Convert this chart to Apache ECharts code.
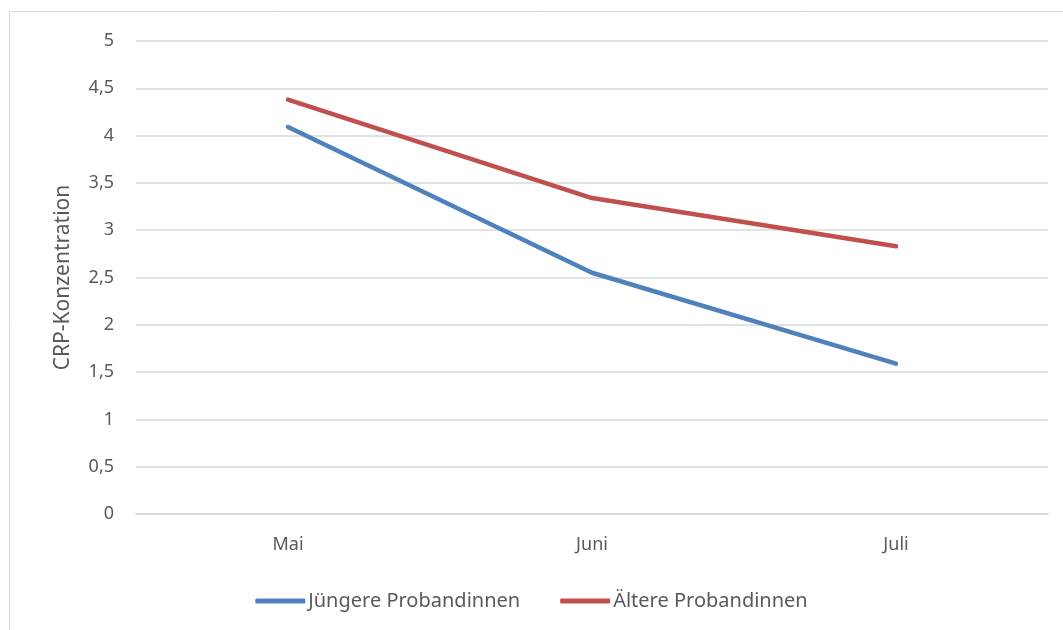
<!DOCTYPE html>
<html>
<head>
<meta charset="utf-8">
<script src="https://cdn.jsdelivr.net/npm/echarts@6/dist/echarts.min.js"></script>
<style>
  html, body { margin: 0; padding: 0; background: #fff; }
  #chart { width: 1063px; height: 630px; }
</style>
</head>
<body>
<div id="chart"></div>
<script>
const months = ['Mai', 'Juni', 'Juli']
const juengere = [4.09, 2.55, 1.59]
const aeltere = [4.38, 3.34, 2.83]

const chart = echarts.init(document.getElementById('chart'))
const font = 'Noto Sans'
const textColor = '#595959'

const option = {
	animation: false,
	graphic: [
		{
			type: 'rect',
			shape: { x: 9.5, y: 11.5, width: 1060, height: 630 },
			style: { fill: 'none', stroke: '#d9d9d9', lineWidth: 1 },
			silent: true,
		},
	],
	grid: {
		left: 136,
		right: 15,
		top: 41,
		bottom: 116,
	},
	legend: {
		bottom: 14,
		left: 'center',
		itemWidth: 50,
		itemHeight: 5,
		itemGap: 40,
		icon: 'roundRect',
		textStyle: { fontFamily: font, fontSize: 20, color: textColor, padding: [0, 0, 0, -2] },
		data: ['Jüngere Probandinnen', 'Ältere Probandinnen'],
	},
	xAxis: {
		type: 'category',
		data: months,
		boundaryGap: true,
		axisLine: { show: true, lineStyle: { color: '#d9d9d9', width: 1.5 } },
		axisTick: { show: false },
		axisLabel: { fontFamily: font, fontSize: 18, color: textColor, margin: 22 },
	},
	yAxis: {
		type: 'value',
		min: 0,
		max: 5,
		interval: 0.5,
		name: 'CRP-Konzentration',
		nameLocation: 'middle',
		nameGap: 62,
		nameTextStyle: { fontFamily: font, fontSize: 21, color: textColor },
		axisLine: { show: false },
		axisTick: { show: false },
		axisLabel: {
			fontFamily: font,
			fontSize: 18,
			color: textColor,
			margin: 22,
			formatter: v => String(v).replace('.', ','),
		},
		splitLine: { lineStyle: { color: '#d9d9d9', width: 1.5 } },
	},
	series: [
		{
			name: 'Jüngere Probandinnen',
			type: 'line',
			data: juengere,
			symbol: 'none',
			color: '#4F81BD',
			lineStyle: { width: 4.5, cap: 'round', join: 'round' },
		},
		{
			name: 'Ältere Probandinnen',
			type: 'line',
			data: aeltere,
			symbol: 'none',
			color: '#C0504D',
			lineStyle: { width: 4.5, cap: 'round', join: 'round' },
		},
	],
}

chart.setOption(option)
</script>
</body>
</html>
